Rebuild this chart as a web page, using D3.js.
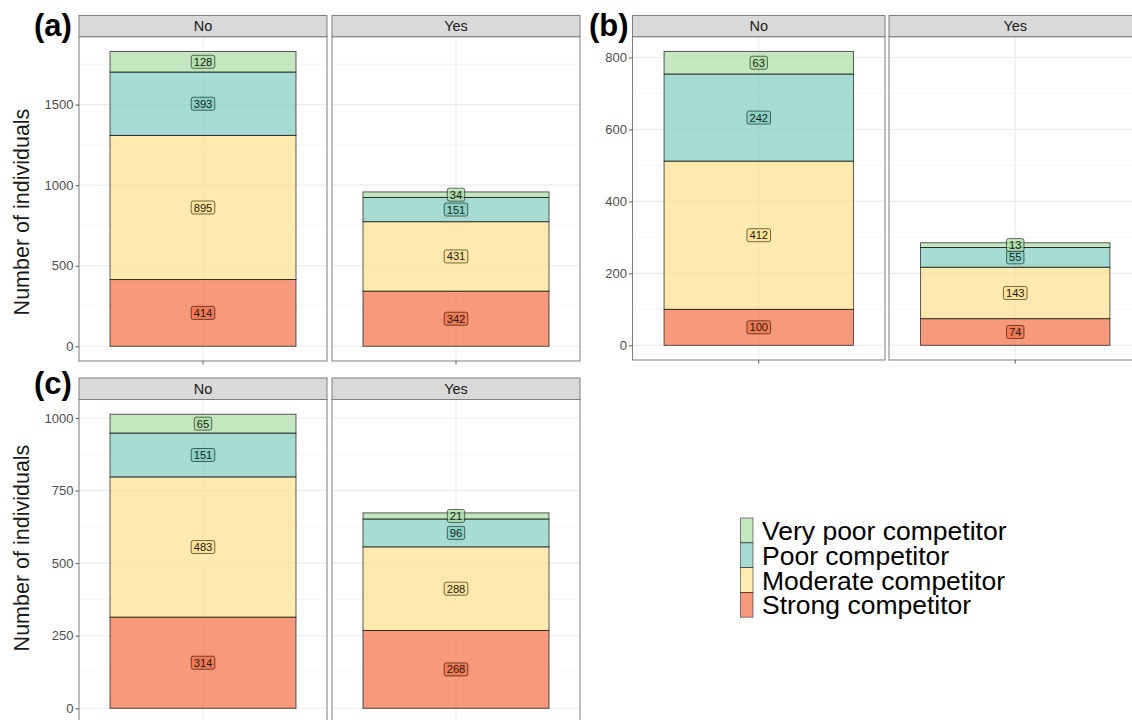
<!DOCTYPE html>
<html>
<head>
<meta charset="utf-8">
<script src="https://cdn.jsdelivr.net/npm/d3@7"></script>
<style>
  body { margin: 0; background: #fff; }
  svg { display: block; font-family: "Liberation Sans", Arial, sans-serif; }
</style>
</head>
<body>
<svg id="chart" width="1132" height="720"></svg>
<script>
// stacking order bottom -> top
const categories = ["Strong competitor", "Moderate competitor", "Poor competitor", "Very poor competitor"];
const facets = ["No", "Yes"];
const colors = ["#F46D43", "#FEE08B", "#80CDC1", "#ABDDA4"];

const a_no = [414, 895, 393, 128];
const a_yes = [342, 431, 151, 34];
const b_no = [100, 412, 242, 63];
const b_yes = [74, 143, 55, 13];
const c_no = [314, 483, 151, 65];
const c_yes = [268, 288, 96, 21];

const ticks_a = [0, 500, 1000, 1500];
const ticks_b = [0, 200, 400, 600, 800];
const ticks_c = [0, 250, 500, 750, 1000];

const svg = d3.select('#chart');
const border = '#7f7f7f';

// one faceted panel set
const drawPanel = (opt) => {
    const { letter, x0, pw, gap, stripTop, panelTop, panelBottom, series, ticks, showTitle, titleY } = opt;
    const totals = series.map(s => d3.sum(s));
    const ymax = d3.max(totals);
    const y = d3.scaleLinear()
        .domain([-0.05 * ymax, 1.05 * ymax])
        .range([panelBottom, panelTop]);
    const step = ticks[1] - ticks[0];
    const minor = d3.range(step / 2, 1.05 * ymax, step);

    series.forEach((vals, i) => {
        const px = x0 + i * (pw + gap);
        const g = svg.append('g');
        const xc = px + pw / 2;
        const bw = pw * 0.75;

        g.append('rect')
            .attr('x', px).attr('y', panelTop)
            .attr('width', pw).attr('height', panelBottom - panelTop)
            .attr('fill', '#fff');

        g.selectAll('.minor').data(minor).enter().append('line')
            .attr('x1', px).attr('x2', px + pw)
            .attr('y1', d => y(d)).attr('y2', d => y(d))
            .attr('stroke', '#f0f0f0').attr('stroke-width', 0.6);
        g.selectAll('.major').data(ticks).enter().append('line')
            .attr('x1', px).attr('x2', px + pw)
            .attr('y1', d => y(d)).attr('y2', d => y(d))
            .attr('stroke', '#ebebeb').attr('stroke-width', 1.1);
        g.append('line')
            .attr('x1', xc).attr('x2', xc)
            .attr('y1', panelTop).attr('y2', panelBottom)
            .attr('stroke', '#ebebeb').attr('stroke-width', 1.1);

        // stacked segments
        let cum = 0;
        const segs = vals.map((v, k) => {
            const s = { v, k, lo: cum, hi: cum + v };
            cum += v;
            return s;
        });
        g.selectAll('.seg').data(segs).enter().append('rect')
            .attr('x', xc - bw / 2)
            .attr('width', bw)
            .attr('y', d => y(d.hi))
            .attr('height', d => y(d.lo) - y(d.hi))
            .attr('fill', d => colors[d.k])
            .attr('fill-opacity', 0.7)
            .attr('stroke', '#000')
            .attr('stroke-opacity', 0.7)
            .attr('stroke-width', 0.9);

        // value labels
        const lab = g.selectAll('.lab').data(segs).enter().append('g')
            .attr('transform', d => `translate(${xc},${y((d.lo + d.hi) / 2)})`);
        lab.append('rect')
            .attr('x', d => -(String(d.v).length * 6.2 + 5) / 2)
            .attr('y', -6.5)
            .attr('width', d => String(d.v).length * 6.2 + 5)
            .attr('height', 13)
            .attr('rx', 2).attr('ry', 2)
            .attr('fill', d => colors[d.k])
            .attr('fill-opacity', 0.7)
            .attr('stroke', '#000')
            .attr('stroke-opacity', 0.7)
            .attr('stroke-width', 0.8);
        lab.append('text')
            .attr('text-anchor', 'middle')
            .attr('dy', '0.36em')
            .attr('font-size', 11.2)
            .attr('fill', '#1a1a1a')
            .text(d => d.v);

        // panel border + x tick
        g.append('rect')
            .attr('x', px).attr('y', panelTop)
            .attr('width', pw).attr('height', panelBottom - panelTop)
            .attr('fill', 'none').attr('stroke', border).attr('stroke-width', 1);
        g.append('line')
            .attr('x1', xc).attr('x2', xc)
            .attr('y1', panelBottom).attr('y2', panelBottom + 3.5)
            .attr('stroke', '#333').attr('stroke-width', 0.8);

        // strip
        g.append('rect')
            .attr('x', px).attr('y', stripTop)
            .attr('width', pw).attr('height', panelTop - stripTop)
            .attr('fill', '#d9d9d9').attr('stroke', border).attr('stroke-width', 1);
        g.append('text')
            .attr('x', xc).attr('y', (stripTop + panelTop) / 2)
            .attr('dy', '0.36em')
            .attr('text-anchor', 'middle')
            .attr('font-size', 14.5)
            .attr('fill', '#1a1a1a')
            .text(facets[i]);
    });

    const yAxis = d3.axisLeft(y).tickValues(ticks).tickSize(3.5).tickPadding(2).tickFormat(d3.format('d'));
    const ax = svg.append('g')
        .attr('transform', `translate(${x0},0)`)
        .call(yAxis);
    ax.select('.domain').remove();
    ax.selectAll('.tick line').attr('stroke', '#333').attr('stroke-width', 0.8);
    ax.selectAll('.tick text').attr('fill', '#4d4d4d').attr('font-size', 13)
        .attr('font-family', '"Liberation Sans", Arial, sans-serif');

    if (showTitle) {
        svg.append('text')
            .attr('transform', `translate(29,${titleY}) rotate(-90)`)
            .attr('text-anchor', 'middle')
            .attr('font-size', 21.5)
            .attr('fill', '#1a1a1a')
            .text('Number of individuals');
    }

    svg.append('text')
        .attr('x', opt.letterX).attr('y', opt.letterY)
        .attr('font-size', 31)
        .attr('font-weight', 'bold')
        .attr('fill', '#000')
        .text(letter);
};

drawPanel({ letter: '(a)', letterX: 34, letterY: 36, x0: 79, pw: 248, gap: 5,
    stripTop: 15.5, panelTop: 36.7, panelBottom: 361, series: [a_no, a_yes], ticks: ticks_a,
    showTitle: true, titleY: 212 });
drawPanel({ letter: '(b)', letterX: 589, letterY: 36, x0: 632.5, pw: 252.5, gap: 4,
    stripTop: 15.5, panelTop: 36.7, panelBottom: 360, series: [b_no, b_yes], ticks: ticks_b,
    showTitle: false });
drawPanel({ letter: '(c)', letterX: 34, letterY: 394, x0: 79, pw: 248, gap: 5,
    stripTop: 378, panelTop: 399.5, panelBottom: 723, series: [c_no, c_yes], ticks: ticks_c,
    showTitle: true, titleY: 548 });

// legend (top to bottom: very poor -> strong)
const legendItems = categories.map((c, i) => ({ c, col: colors[i] })).reverse();
const keyH = 24.8;
const leg = svg.append('g').attr('transform', 'translate(740.5,518)');
const item = leg.selectAll('g').data(legendItems).enter().append('g')
    .attr('transform', (d, i) => `translate(0,${i * keyH})`);
item.append('rect')
    .attr('width', 12.5).attr('height', keyH)
    .attr('fill', d => d.col).attr('fill-opacity', 0.7)
    .attr('stroke', '#000').attr('stroke-opacity', 0.6).attr('stroke-width', 0.8);
item.append('text')
    .attr('x', 21.5).attr('y', keyH / 2)
    .attr('dy', '0.36em')
    .attr('font-size', 26.5)
    .attr('fill', '#000')
    .text(d => d.c);
</script>
</body>
</html>
